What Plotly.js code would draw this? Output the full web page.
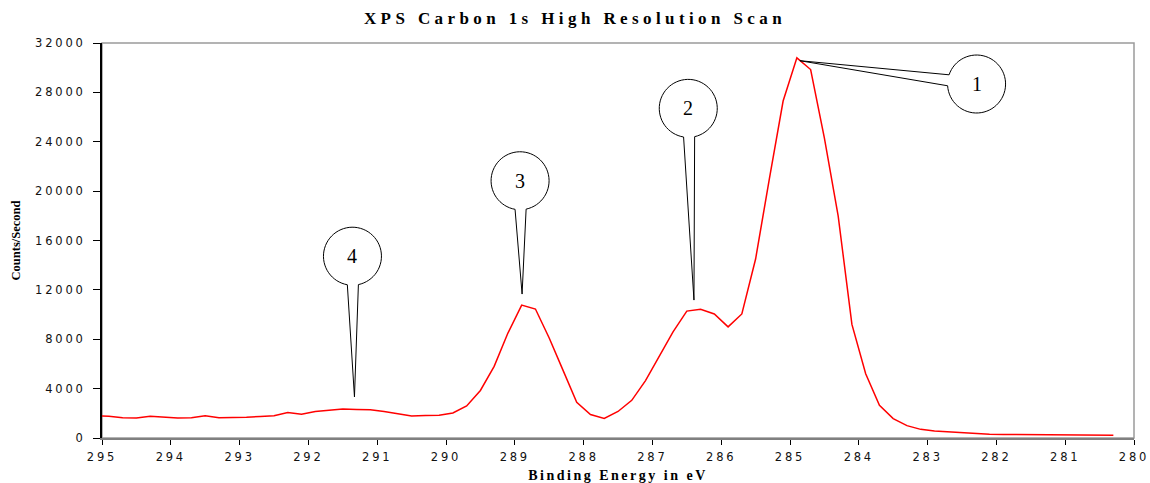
<!DOCTYPE html>
<html>
<head>
<meta charset="utf-8">
<script src="https://cdn.plot.ly/plotly-3.0.1.min.js"></script>
<style>
  html, body { margin: 0; padding: 0; background: #ffffff; }
  #chart { width: 1150px; height: 483px; }
  /* wide, airy lettering for ticks and titles */
  #chart .xtick text, #chart .ytick text { letter-spacing: 2.8px; }
  #chart .gtitle { letter-spacing: 4.4px; }
  #chart .xtitle { letter-spacing: 2.5px; }
</style>
</head>
<body>
<div id="chart"></div>
<script>
// C 1s spectrum: binding energy (eV) and intensity (counts per second)
const bindingEnergy = [
  295.0, 294.9, 294.7, 294.5, 294.3, 294.1, 293.9, 293.7, 293.5, 293.3,
  293.1, 292.9, 292.7, 292.5, 292.3, 292.1, 291.9, 291.7, 291.5, 291.3,
  291.1, 290.9, 290.7, 290.5, 290.3, 290.1, 289.9, 289.7, 289.5, 289.3,
  289.1, 288.9, 288.7, 288.5, 288.3, 288.1, 287.9, 287.7, 287.5, 287.3,
  287.1, 286.9, 286.7, 286.5, 286.3, 286.1, 285.9, 285.7, 285.5, 285.3,
  285.1, 284.9, 284.7, 284.5, 284.3, 284.1, 283.9, 283.7, 283.5, 283.3,
  283.1, 282.9, 282.7, 282.5, 282.3, 282.1, 281.9, 281.7, 281.5, 281.3,
  281.1, 280.9, 280.7, 280.5, 280.3
];
const counts = [
  1790, 1770, 1650, 1630, 1760, 1680, 1630, 1640, 1810, 1640,
  1650, 1690, 1740, 1800, 2060, 1920, 2150, 2240, 2340, 2300,
  2280, 2150, 1980, 1780, 1830, 1840, 2030, 2600, 3850, 5800,
  8500, 10770, 10450, 8100, 5500, 2900, 1900, 1580, 2150, 3050,
  4650, 6600, 8600, 10280, 10420, 10050, 9000, 10050, 14500, 21000,
  27300, 30800, 29850, 24300, 18000, 9200, 5200, 2650, 1570, 1000,
  700, 560, 480, 420, 330, 300, 290, 280, 260, 250,
  240, 230, 230, 220, 220
];

const xTickValues = [295, 294, 293, 292, 291, 290, 289, 288, 287, 286, 285, 284, 283, 282, 281, 280];
const yTickValues = [0, 4000, 8000, 12000, 16000, 20000, 24000, 28000, 32000];

// numbered peaks and the binding energy each one points at
const peakLabels = ['1', '2', '3', '4'];
const peakEnergies = [284.9, 286.3, 288.9, 291.3];

// balloon geometry in pixels, relative to the peak point (y up)
const balloonStyle = [
  { tip: [3, -2.9],   centre: [179.7, -26.2] },
  { tip: [-6.6, 9.3], centre: [-12.3, 201] },
  { tip: [0.4, 11],   centre: [-1.6, 124.3] },
  { tip: [-2.1, 12.7], centre: [-4.1, 153.4] }
];
const balloonRadius = 29;
const wedgeHalfAngle = 11;

function balloonPath(tip, centre, r, halfDeg) {
  const ang = Math.atan2(tip[1] - centre[1], tip[0] - centre[0]);
  const h = halfDeg * Math.PI / 180;
  const steps = 60;
  const pts = [];
  for (let i = 0; i <= steps; i++) {
    const a = ang + h + (2 * Math.PI - 2 * h) * i / steps;
    pts.push([centre[0] + r * Math.cos(a), centre[1] + r * Math.sin(a)]);
  }
  const f = v => v.toFixed(2);
  let d = 'M' + f(pts[steps][0]) + ',' + f(pts[steps][1]) +
          ' L' + f(tip[0]) + ',' + f(tip[1]) +
          ' L' + f(pts[0][0]) + ',' + f(pts[0][1]);
  for (let i = 1; i <= steps; i++) d += ' L' + f(pts[i][0]) + ',' + f(pts[i][1]);
  return d + ' Z';
}

const shapes = [{
  type: 'rect', xref: 'paper', yref: 'paper', x0: 0, x1: 1, y0: 0, y1: 1,
  line: { color: '#9a9a9a', width: 1.5 }, fillcolor: 'rgba(0,0,0,0)', layer: 'below'
}];
const annotations = [];

peakLabels.forEach((label, k) => {
  const idx = bindingEnergy.indexOf(peakEnergies[k]);
  const ex = bindingEnergy[idx];
  const cy = counts[idx];
  const g = balloonStyle[k];
  shapes.push({
    type: 'path', xref: 'x', yref: 'y',
    xsizemode: 'pixel', ysizemode: 'pixel', xanchor: ex, yanchor: cy,
    path: balloonPath(g.tip, g.centre, balloonRadius, wedgeHalfAngle),
    line: { color: '#000000', width: 1 }, fillcolor: '#ffffff', layer: 'above'
  });
  annotations.push({
    x: ex, y: cy, xref: 'x', yref: 'y', showarrow: false,
    xshift: g.centre[0], yshift: g.centre[1],
    text: label,
    font: { family: 'Liberation Serif, Times New Roman, serif', size: 20, color: '#000000' }
  });
});

const trace = {
  x: bindingEnergy, y: counts, type: 'scatter', mode: 'lines',
  line: { color: '#ff0000', width: 1.5 }, hoverinfo: 'x+y'
};

const tickFont = { family: 'DejaVu Sans, Verdana, sans-serif', size: 11.5, color: '#111111' };

const layout = {
  width: 1150, height: 483,
  margin: { l: 102, r: 16, t: 43, b: 45, pad: 0 },
  paper_bgcolor: '#ffffff', plot_bgcolor: '#ffffff',
  showlegend: false,
  title: {
    text: 'XPS Carbon 1s High Resolution Scan',
    font: { family: 'Liberation Serif, Times New Roman, serif', size: 17, color: '#000000', weight: 'bold' },
    x: 0.5, xref: 'container', xanchor: 'center',
    y: 0.962, yref: 'container', yanchor: 'middle'
  },
  xaxis: {
    range: [295, 280], tickvals: xTickValues, tickformat: 'd',
    ticks: 'outside', ticklen: 5, tickwidth: 1, tickcolor: '#000000',
    showgrid: false, zeroline: false,
    showline: true, linecolor: '#808080', linewidth: 2,
    tickfont: tickFont,
    ticklabelstandoff: 2,
    title: {
      text: 'Binding Energy in eV', standoff: 7,
      font: { family: 'Liberation Serif, Times New Roman, serif', size: 14, color: '#000000', weight: 'bold' }
    },
    automargin: false
  },
  yaxis: {
    range: [0, 32000], tickvals: yTickValues, tickformat: 'd',
    ticks: 'outside', ticklen: 7, tickwidth: 1, tickcolor: '#000000',
    showgrid: false, zeroline: false,
    showline: true, linecolor: '#000000', linewidth: 2,
    tickfont: tickFont,
    ticklabelstandoff: 5,
    title: {
      text: 'Counts/Second', standoff: 26,
      font: { family: 'Liberation Serif, Times New Roman, serif', size: 12.5, color: '#000000', weight: 'bold' }
    },
    automargin: false
  },
  shapes: shapes,
  annotations: annotations
};

Plotly.newPlot('chart', [trace], layout, { displayModeBar: false, staticPlot: true });
</script>
</body>
</html>
